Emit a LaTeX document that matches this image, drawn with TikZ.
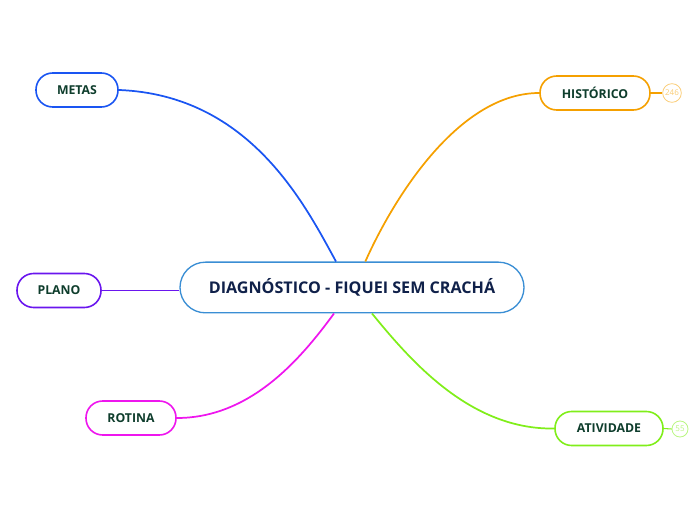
\documentclass[tikz,border=0pt]{standalone}
\usepackage{fontspec}
\setmainfont{Open Sans}
\usepackage{tikz}
\usetikzlibrary{positioning}
\definecolor{inkcenter}{HTML}{10214A}
\definecolor{inkleaf}{HTML}{0E3D2C}
\definecolor{skyline}{HTML}{3A8ED4}
\definecolor{blueline}{HTML}{1A55F2}
\definecolor{orangeline}{HTML}{F5A000}
\definecolor{purpleline}{HTML}{6A16EE}
\definecolor{magentaline}{HTML}{EE16EE}
\definecolor{greenline}{HTML}{80EE1A}
\tikzset{centerbox/.style={draw=skyline,fill=white,line width=1pt,rounded corners=19pt,minimum width=258pt,minimum height=38pt,font=\bfseries\fontsize{12.1}{14}\selectfont,text=inkcenter,inner sep=0pt},leaf/.style={draw=#1,line width=1.2pt,fill=white,rounded corners=12.5pt,minimum height=25.5pt,font=\bfseries\fontsize{9.2}{11}\selectfont,text=inkleaf,inner sep=0pt},branch/.style={draw=#1,line width=1.3pt},count/.style={draw=#1!55,circle,line width=0.6pt,minimum size=13pt,inner sep=0pt,font=\fontsize{6}{7}\selectfont,text=#1!55}}

\begin{document}
\begin{tikzpicture}[x=0.75pt,y=-0.75pt]
\useasboundingbox (0,0) rectangle (696,520);
\node[centerbox] (core) at (352,287.5) {DIAGNÓSTICO - FIQUEI SEM CRACHÁ};
\node[leaf=blueline,minimum width=61.5pt] (metas) at (77,90) {METAS};
\node[leaf=orangeline,minimum width=82.5pt] (historico) at (595,93) {HISTÓRICO};
\node[leaf=purpleline,minimum width=63pt] (plano) at (59,290.5) {PLANO};
\node[leaf=magentaline,minimum width=67.5pt] (rotina) at (131,418) {ROTINA};
\node[leaf=greenline,minimum width=81pt] (atividade) at (609,428.5) {ATIVIDADE};
\node[count=orangeline,minimum size=14pt] (n246) at (672,93) {246};
\node[count=greenline,minimum size=12pt] (n55) at (680,429) {55};
% branches
\draw[branch=blueline] (metas.east) .. controls (250,95) and (305,205) .. ([xshift=-12pt]core.north);
\draw[branch=orangeline] (historico.west) .. controls (460,93) and (395,195) .. ([xshift=10pt]core.north);
\draw[branch=purpleline] (plano.east) -- (plano.east -| core.west);
\draw[branch=magentaline] (rotina.east) .. controls (250,418) and (300,360) .. ([xshift=-13.5pt]core.south);
\draw[branch=greenline] (atividade.west) .. controls (470,430) and (410,360) .. ([xshift=15pt]core.south);
\draw[orangeline,line width=0.8pt] (historico.east) -- (n246.west);
\draw[greenline,line width=0.8pt] (atividade.east) -- (n55.west);
\end{tikzpicture}
\end{document}
